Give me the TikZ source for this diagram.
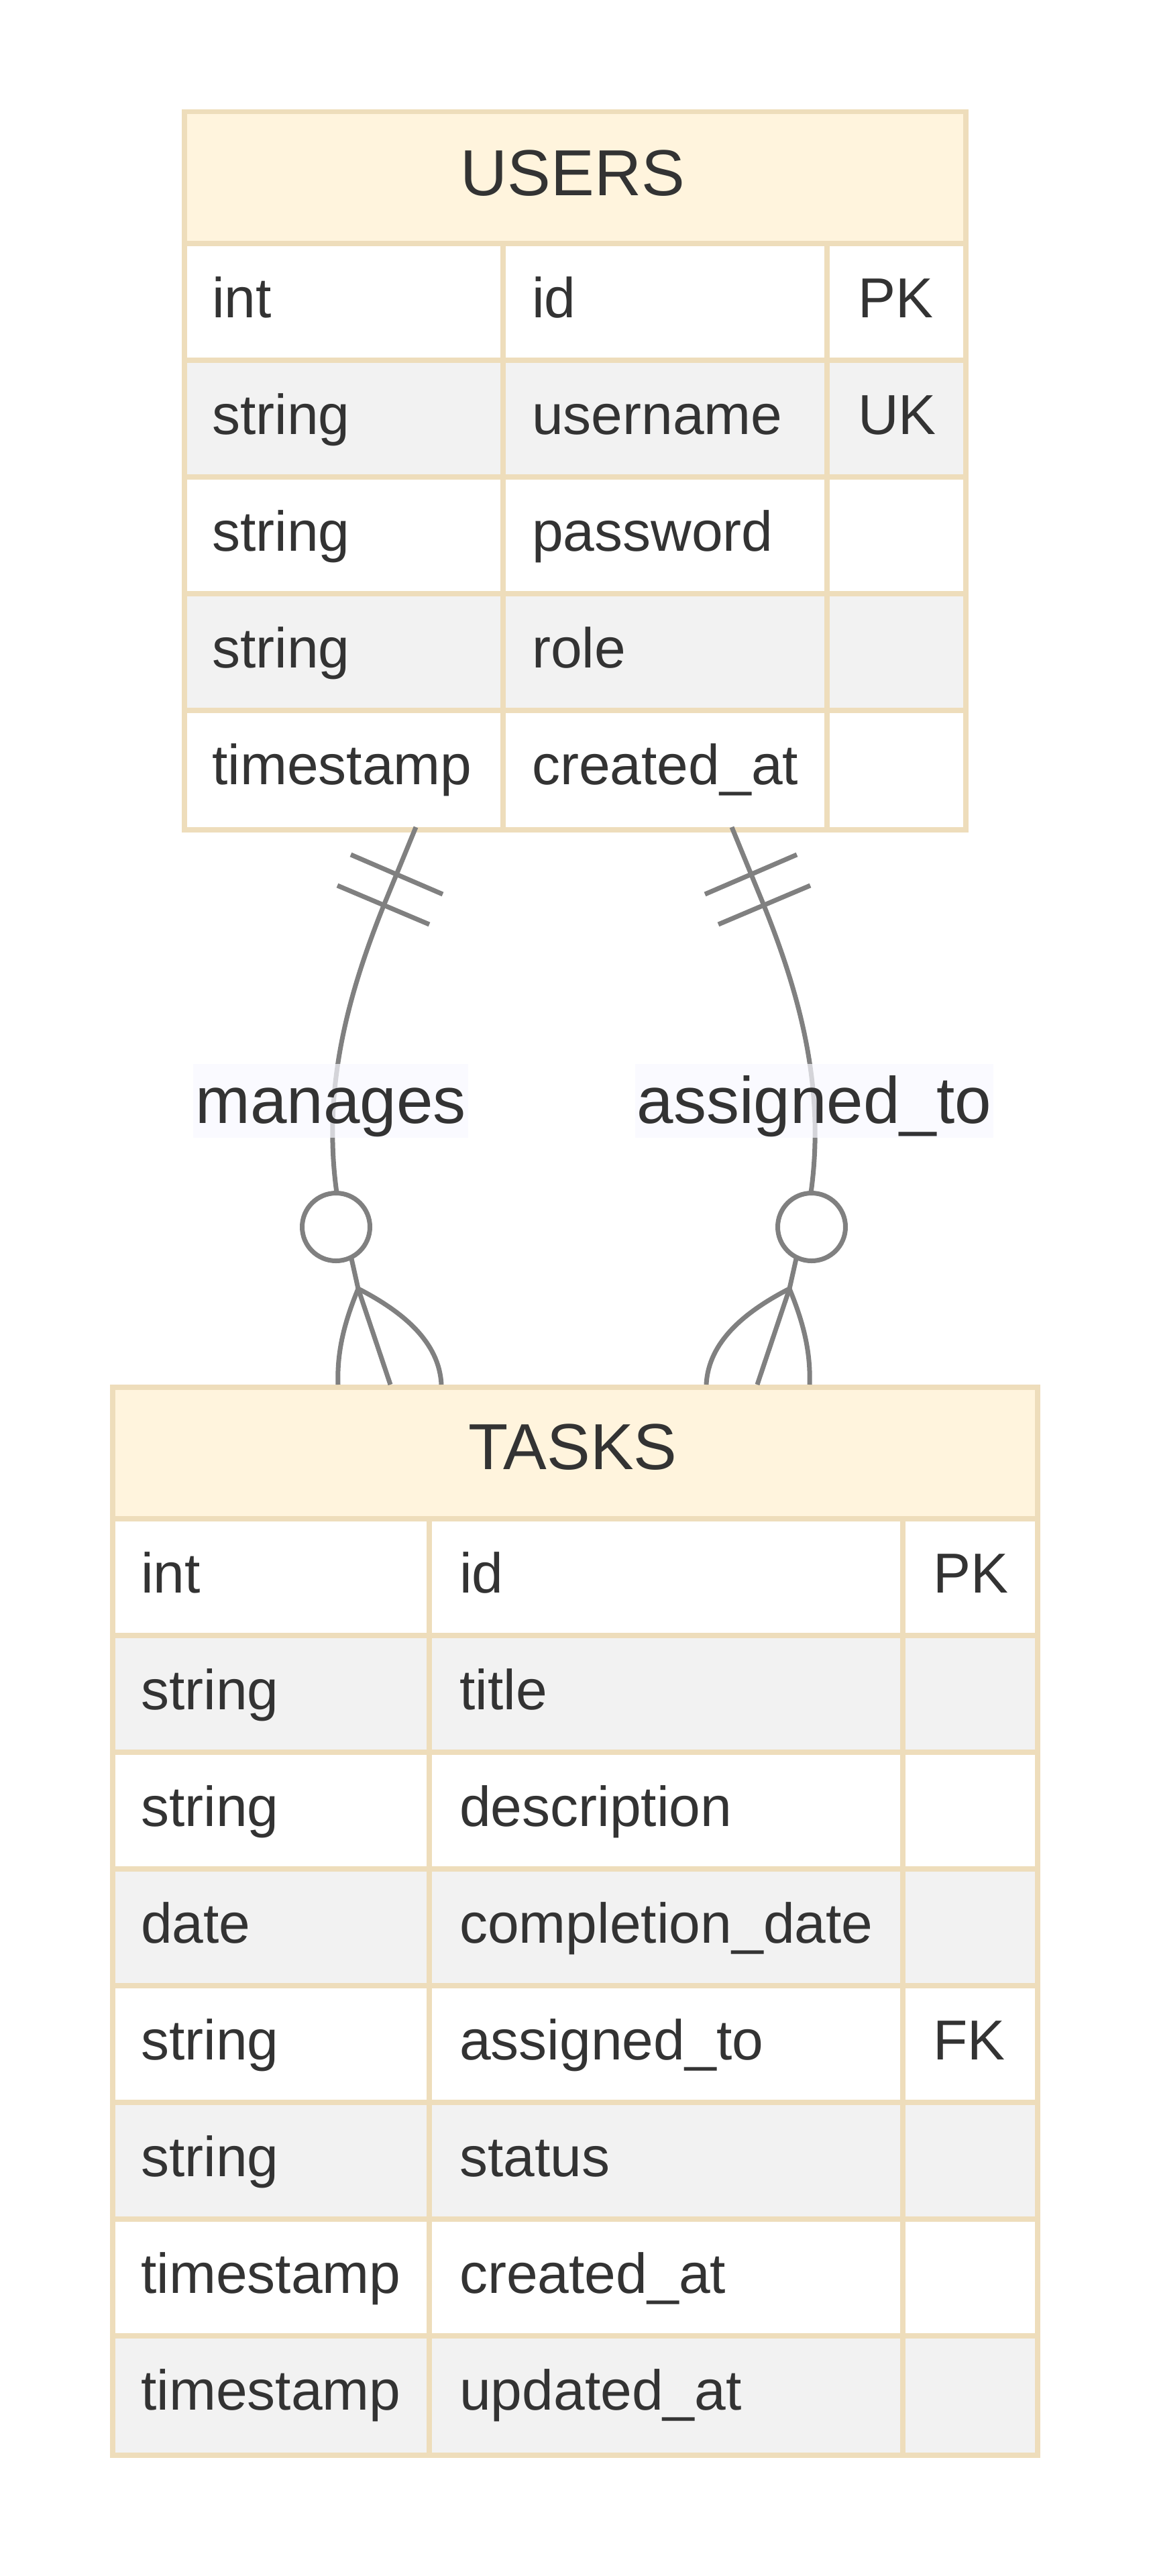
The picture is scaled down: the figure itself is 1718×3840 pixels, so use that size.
\documentclass[tikz,border=0pt]{standalone}
\usepackage{fontspec}
\setmainfont{Liberation Sans}
\definecolor{hdr}{HTML}{FFF4DD}
\definecolor{bord}{HTML}{EEDDBB}
\definecolor{evenrow}{HTML}{F2F2F2}
\definecolor{txt}{HTML}{333333}
\definecolor{edgec}{HTML}{808080}
\definecolor{lblbg}{HTML}{F8F9FF}
\tikzset{
  attr/.style={anchor=base west, inner sep=0pt, text=txt, font=\fontsize{84}{84}\selectfont},
  ttl/.style={anchor=base, inner sep=0pt, text=txt, font=\fontsize{97}{97}\selectfont},
  rel/.style={draw=edgec, line width=7pt},
  lbl/.style={fill=lblbg, fill opacity=0.7, text opacity=1, text=txt, font=\fontsize{98}{98}\selectfont, inner xsep=3pt, inner ysep=0pt, text height=88.7pt, text depth=20.8pt},
  grid/.style={draw=bord, line width=7.5pt},
  frame/.style={draw=bord, line width=7.5pt, inner sep=0pt, anchor=north west},
  zero/.style={circle, draw=edgec, fill=white, line width=7pt, minimum size=101pt, inner sep=0pt}
}
\begin{document}
\begin{tikzpicture}[x=1pt, y=-1pt]
\fill[white] (0,0) rectangle (1718,3840);
\useasboundingbox (0,0) rectangle (1718,3840);

% ---------------- USERS ----------------
\fill[hdr] (271,163) rectangle (1436,363);
\fill[white] (271,363) rectangle (1436,1233);
\foreach \i in {1,3} \fill[evenrow] (271,363+174*\i) rectangle (1436,537+174*\i);
\foreach \i in {1,...,4} \draw[grid] (271,363+174*\i) -- (1436,363+174*\i);
\draw[grid] (271,363) -- (1436,363);
\draw[grid] (750,363) -- (750,1233);
\draw[grid] (1233,363) -- (1233,1233);
\node[frame, minimum width=1165pt, minimum height=1070pt] (users) at (271,163) {};
\node[ttl] (users-title) at (854,291) {USERS};
\foreach \t/\n/\k [count=\i from 0] in {int/id/PK, string/username/UK, string/password/{}, string/role/{}, timestamp/created\_at/{}} {
  \node[attr] (u-t-\i) at (316,473+174*\i) {\t};
  \node[attr] (u-n-\i) at (793,473+174*\i) {\n};
  \node[attr] (u-k-\i) at (1279,473+174*\i) {\k};
}

% ---------------- TASKS ----------------
\fill[hdr] (164,2064) rectangle (1543,2264);
\fill[white] (164,2264) rectangle (1543,3656);
\foreach \i in {1,3,5,7} \fill[evenrow] (164,2264+174*\i) rectangle (1543,2438+174*\i);
\foreach \i in {1,...,7} \draw[grid] (164,2264+174*\i) -- (1543,2264+174*\i);
\draw[grid] (164,2264) -- (1543,2264);
\draw[grid] (640,2264) -- (640,3656);
\draw[grid] (1346,2264) -- (1346,3656);
\node[frame, minimum width=1379pt, minimum height=1592pt] (tasks) at (164,2064) {};
\node[ttl] (tasks-title) at (854,2190) {TASKS};
\foreach \t/\n/\k [count=\i from 0] in {int/id/PK, string/title/{}, string/description/{}, date/completion\_date/{}, string/assigned\_to/FK, string/status/{}, timestamp/created\_at/{}, timestamp/updated\_at/{}} {
  \node[attr] (t-t-\i) at (210,2374+174*\i) {\t};
  \node[attr] (t-n-\i) at (685,2374+174*\i) {\n};
  \node[attr] (t-k-\i) at (1391,2374+174*\i) {\k};
}

% ---------------- manages ----------------
\coordinate (m-start) at (620,1233);
\coordinate (m-end) at (582,2064);
\coordinate (m-apex) at (534,1921);
\draw[rel] (m-start) -- (572,1350) .. controls (520,1480) and (480,1620) .. (502,1778) -- (m-apex) -- (m-end);
\draw[rel] (523,1274) -- (660,1333);
\draw[rel] (503,1320) -- (640,1378);
\draw[rel] (m-apex) .. controls (516,1965) and (502,2010) .. (504,2064);
\draw[rel] (m-apex) .. controls (600,1955) and (655,2000) .. (658,2064);
\node[zero] (m-zero) at (501,1829) {};
\node[lbl] (m-label) at (493,1641) {manages};

% ---------------- assigned_to ----------------
\coordinate (a-start) at (1091,1233);
\coordinate (a-end) at (1129,2064);
\coordinate (a-apex) at (1177,1921);
\draw[rel] (a-start) -- (1139,1350) .. controls (1191,1480) and (1231,1620) .. (1209,1778) -- (a-apex) -- (a-end);
\draw[rel] (1188,1274) -- (1051,1333);
\draw[rel] (1208,1320) -- (1071,1378);
\draw[rel] (a-apex) .. controls (1195,1965) and (1209,2010) .. (1207,2064);
\draw[rel] (a-apex) .. controls (1111,1955) and (1056,2000) .. (1053,2064);
\node[zero] (a-zero) at (1210,1829) {};
\node[lbl] (a-label) at (1214,1641) {assigned\_to};
\end{tikzpicture}
\end{document}
